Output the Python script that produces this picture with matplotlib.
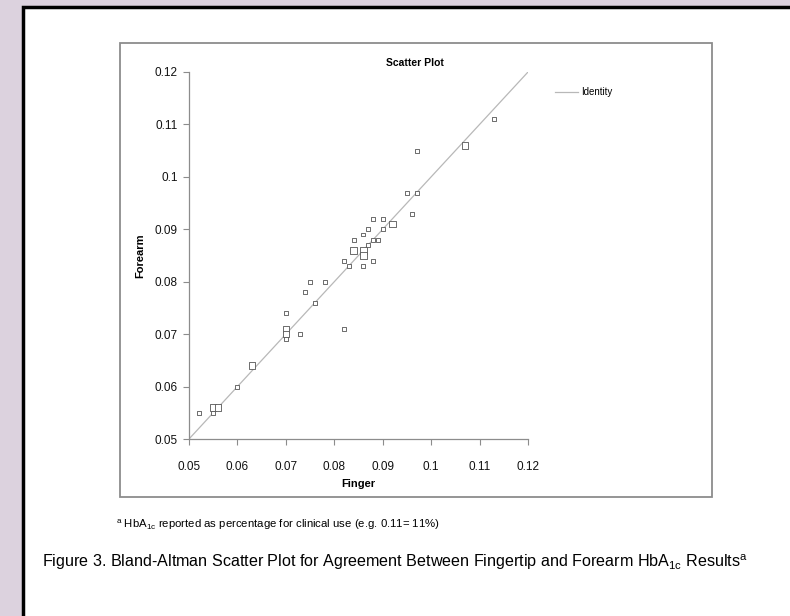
import matplotlib.pyplot as plt
from matplotlib.patches import Rectangle
from matplotlib.lines import Line2D

plt.rcParams['font.family'] = ['Liberation Sans', 'DejaVu Sans']
plt.rcParams['mathtext.fontset'] = 'custom'
plt.rcParams['mathtext.rm'] = 'Liberation Sans'
plt.rcParams['mathtext.it'] = 'Liberation Sans:italic'

# HbA1c readings (fraction), finger vs forearm; count = overlapping observations
finger = [0.052, 0.055, 0.055, 0.056, 0.060, 0.063, 0.070, 0.070, 0.070, 0.070,
          0.073, 0.074, 0.075, 0.076, 0.078, 0.082, 0.082, 0.083, 0.084, 0.084,
          0.086, 0.086, 0.086, 0.086, 0.087, 0.087, 0.088, 0.088, 0.088, 0.089,
          0.090, 0.090, 0.092, 0.095, 0.096, 0.097, 0.097, 0.107, 0.113]
forearm = [0.055, 0.055, 0.056, 0.056, 0.060, 0.064, 0.074, 0.071, 0.070, 0.069,
           0.070, 0.078, 0.080, 0.076, 0.080, 0.071, 0.084, 0.083, 0.088, 0.086,
           0.089, 0.086, 0.085, 0.083, 0.090, 0.087, 0.092, 0.088, 0.084, 0.088,
           0.092, 0.090, 0.091, 0.097, 0.093, 0.097, 0.105, 0.106, 0.111]
count = [1, 1, 2, 2, 1, 2, 1, 2, 2, 1,
         1, 1, 1, 1, 1, 1, 1, 1, 1, 2,
         1, 2, 2, 1, 1, 1, 1, 1, 1, 1,
         1, 1, 2, 1, 1, 1, 1, 2, 1]
identity = [0.05, 0.12]
ticks = [0.05, 0.06, 0.07, 0.08, 0.09, 0.1, 0.11, 0.12]
tick_labels = ["0.05", "0.06", "0.07", "0.08", "0.09", "0.1", "0.11", "0.12"]

W, H = 790, 616
fig = plt.figure(figsize=(W / 100, H / 100), dpi=100)
fig.patch.set_facecolor('#dcd2de')

# white page with black border
page = Rectangle((23 / W, -0.1), 1.2, 1 - 7 / H + 0.1, transform=fig.transFigure,
                 facecolor='white', edgecolor='black', linewidth=2.5, zorder=0)
fig.patches.append(page)

# chart frame
frame = Rectangle((120 / W, 1 - 497 / H), (712 - 120) / W, (497 - 43) / H,
                  transform=fig.transFigure, facecolor='none',
                  edgecolor='#8c8c8c', linewidth=1.3, zorder=0.5)
fig.patches.append(frame)

ax = fig.add_axes([189 / W, 1 - 439 / H, (528 - 189) / W, (439 - 72) / H])
ax.set_zorder(5)
ax.set_facecolor('none')

ax.plot(identity, identity, color='#b8b8b8', linewidth=0.9, zorder=1)
sizes = [8 if c == 1 else 22 for c in count]
ax.scatter(finger, forearm, s=sizes, marker='s', facecolors='white',
           edgecolors='#555555', linewidths=0.6, zorder=2, clip_on=False)

ax.set_xlim(0.05, 0.12)
ax.set_ylim(0.05, 0.12)
ax.set_xticks(ticks)
ax.set_xticklabels(tick_labels)
ax.set_yticks(ticks)
ax.set_yticklabels(tick_labels)
for s in ['top', 'right']:
    ax.spines[s].set_visible(False)
for s in ['left', 'bottom']:
    ax.spines[s].set_color('#8c8c8c')
    ax.spines[s].set_linewidth(0.9)
ax.tick_params(direction='out', length=4, width=0.8, color='#8c8c8c',
               labelsize=8.5, labelcolor='#111111')
ax.tick_params(axis='x', pad=12)
ax.tick_params(axis='y', pad=4)

ax.set_xlabel("Finger", fontsize=8, fontweight='bold', labelpad=4)
ax.set_ylabel("Forearm", fontsize=8, fontweight='bold', labelpad=7)

fig.text(415 / W, 1 - 63 / H, "Scatter Plot", fontsize=7.5, fontweight='bold',
         ha='center', va='center')

# legend
fig.lines.append(Line2D([555 / W, 578 / W], [1 - 92 / H, 1 - 92 / H],
                        transform=fig.transFigure, color='#b8b8b8', linewidth=0.9))
fig.text(581 / W, 1 - 92 / H, "Identity", fontsize=7, ha='left', va='center')

fig.text(116 / W, 1 - 525 / H,
         r"$^{\mathrm{a}}$ HbA$_{\mathrm{1c}}$ reported as percentage for clinical use (e.g. 0.11= 11%)",
         fontsize=8.2, ha='left', va='center')
fig.text(42 / W, 1 - 562 / H,
         r"Figure 3. Bland-Altman Scatter Plot for Agreement Between Fingertip and Forearm HbA$_{\mathrm{1c}}$ Results$^{\mathrm{a}}$",
         fontsize=11.6, ha='left', va='center')

fig.savefig("out.png", dpi=100, facecolor=fig.get_facecolor())
